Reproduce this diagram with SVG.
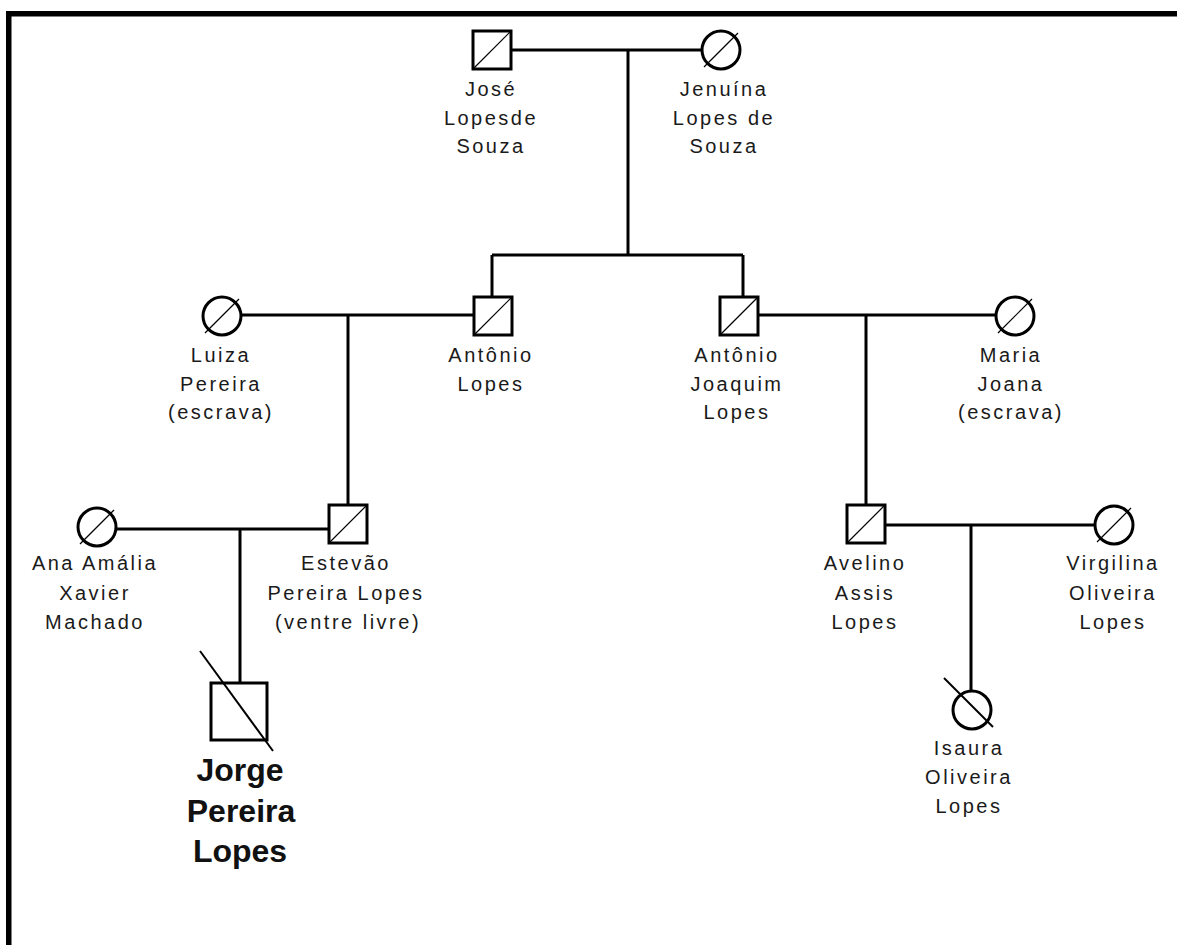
<svg xmlns="http://www.w3.org/2000/svg" width="1177" height="945" viewBox="0 0 1177 945">
<style>
.t{font-family:"Liberation Sans",Arial,sans-serif;font-size:20px;letter-spacing:2.5px;fill:#1a1a1a;text-anchor:middle}
.b{font-family:"Liberation Sans",Arial,sans-serif;font-size:32px;font-weight:bold;fill:#111;text-anchor:middle}
.sq{fill:#fff;stroke:#000;stroke-width:3}
.ci{fill:#fff;stroke:#000;stroke-width:3}
.dg{stroke:#000;stroke-width:1.2;fill:none}
.st{stroke:#000;stroke-width:2;fill:none}
.ln{stroke:#000;stroke-width:3;fill:none}
</style>
<rect x="0" y="0" width="1177" height="945" fill="#fff"/>
<g id="frame">
<rect x="6" y="11" width="1171" height="5.5" fill="#000"/>
<rect x="6" y="11" width="5.5" height="934" fill="#000"/>
</g>
<g id="connectors">
<path class="ln" d="M511 50H702M628 50V255M492 255H743M492 255V297M743 255V297"/>
<path class="ln" d="M241 315H474M348 315V505"/>
<path class="ln" d="M759 315H996M866 315V505"/>
<path class="ln" d="M116 529H329M240 529V683"/>
<path class="ln" d="M885 525H1095M971 525V691"/>
</g>
<g id="jose">
<rect class="sq" x="473" y="31" width="38" height="38"/>
<line class="dg" x1="473" y1="69" x2="511" y2="31"/>
<text class="t" x="491" y="96">José</text>
<text class="t" x="491" y="124.5">Lopesde</text>
<text class="t" x="491" y="153">Souza</text>
</g>
<g id="jenuina">
<circle class="ci" cx="721" cy="50" r="19"/>
<line class="dg" x1="704" y1="67" x2="738" y2="33"/>
<text class="t" x="724" y="96">Jenuína</text>
<text class="t" x="724" y="124.5">Lopes de</text>
<text class="t" x="724" y="153">Souza</text>
</g>
<g id="luiza">
<circle class="ci" cx="222" cy="316" r="19"/>
<line class="dg" x1="205" y1="333" x2="239" y2="299"/>
<text class="t" x="221" y="362">Luiza</text>
<text class="t" x="221" y="390.5">Pereira</text>
<text class="t" x="221" y="419">(escrava)</text>
</g>
<g id="antonio-lopes">
<rect class="sq" x="474" y="297" width="38" height="38"/>
<line class="dg" x1="474" y1="335" x2="512" y2="297"/>
<text class="t" x="491" y="362">Antônio</text>
<text class="t" x="491" y="390.5">Lopes</text>
</g>
<g id="antonio-joaquim">
<rect class="sq" x="720" y="297" width="38" height="38"/>
<line class="dg" x1="720" y1="335" x2="758" y2="297"/>
<text class="t" x="737" y="362">Antônio</text>
<text class="t" x="737" y="390.5">Joaquim</text>
<text class="t" x="737" y="419">Lopes</text>
</g>
<g id="maria">
<circle class="ci" cx="1015" cy="316" r="19"/>
<line class="dg" x1="998" y1="333" x2="1032" y2="299"/>
<text class="t" x="1011" y="362">Maria</text>
<text class="t" x="1011" y="390.5">Joana</text>
<text class="t" x="1011" y="419">(escrava)</text>
</g>
<g id="ana">
<circle class="ci" cx="97" cy="527" r="19"/>
<line class="dg" x1="80" y1="544" x2="114" y2="510"/>
<text class="t" x="95" y="570">Ana Amália</text>
<text class="t" x="95" y="599.5">Xavier</text>
<text class="t" x="95" y="629">Machado</text>
</g>
<g id="estevao">
<rect class="sq" x="329" y="505" width="38" height="38"/>
<line class="dg" x1="329" y1="543" x2="367" y2="505"/>
<text class="t" x="346" y="570">Estevão</text>
<text class="t" x="346" y="599.5">Pereira Lopes</text>
<text class="t" x="348" y="629">(ventre livre)</text>
</g>
<g id="avelino">
<rect class="sq" x="847" y="505" width="38" height="38"/>
<line class="dg" x1="847" y1="543" x2="885" y2="505"/>
<text class="t" x="865" y="570">Avelino</text>
<text class="t" x="865" y="599.5">Assis</text>
<text class="t" x="865" y="629">Lopes</text>
</g>
<g id="virgilina">
<circle class="ci" cx="1114" cy="525" r="19"/>
<line class="dg" x1="1097" y1="542" x2="1131" y2="508"/>
<text class="t" x="1113" y="570">Virgilina</text>
<text class="t" x="1113" y="599.5">Oliveira</text>
<text class="t" x="1113" y="629">Lopes</text>
</g>
<g id="isaura">
<circle class="ci" cx="972" cy="710" r="19"/>
<line class="st" x1="944" y1="678" x2="993" y2="727"/>
<text class="t" x="969" y="755">Isaura</text>
<text class="t" x="969" y="784">Oliveira</text>
<text class="t" x="969" y="813">Lopes</text>
</g>
<g id="jorge">
<rect class="sq" x="211" y="683" width="56" height="57"/>
<line class="st" x1="200" y1="651" x2="273" y2="751"/>
<text class="b" x="240" y="781">Jorge</text>
<text class="b" x="241" y="822">Pereira</text>
<text class="b" x="240" y="862">Lopes</text>
</g>
</svg>
